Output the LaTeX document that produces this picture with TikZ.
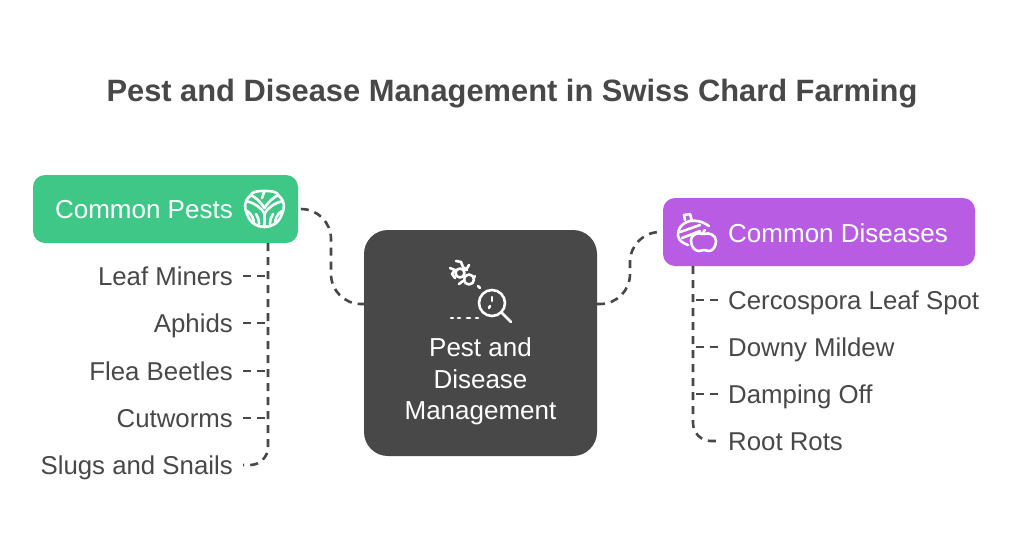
\documentclass[tikz,border=0pt]{standalone}
\usepackage{fontspec}
\setmainfont{Liberation Sans}
\definecolor{ink}{HTML}{484848}
\definecolor{pestgreen}{HTML}{3EC787}
\definecolor{diseasepurple}{HTML}{B75CE3}
\tikzset{
  box/.style={minimum height=68pt,rounded corners=12pt,inner sep=0pt},
  boxtext/.style={text=white,font=\fontsize{26}{30}\selectfont,text height=18.6pt,text depth=0pt,inner xsep=0pt,inner ysep=0pt},
  leaf/.style={text=ink,font=\fontsize{25.8}{30}\selectfont,text height=18.6pt,text depth=0pt,inner xsep=10pt,inner ysep=0pt},
  link/.style={draw=ink,line width=2.6pt,dash pattern=on 8pt off 6pt},
  icon/.style={draw=white,line width=2.6pt,line cap=round,line join=round}
}
\begin{document}
\begin{tikzpicture}[x=1pt,y=-1pt]
\useasboundingbox (0,0) rectangle (1024,544);
\fill[white] (0,0) rectangle (1024,544);
\node[text=ink,font=\bfseries\fontsize{30.85}{36}\selectfont] (title) at (512,93.5) {Pest and Disease Management in Swiss Chard Farming};
\node[box,fill=pestgreen,minimum width=265pt] (pests) at (165.5,209) {};
\node[box,fill=diseasepurple,minimum width=312pt] (diseases) at (819,232) {};
\node[fill=ink,rounded corners=24pt,minimum width=233pt,minimum height=226pt,inner sep=0pt] (main) at (480.5,343) {};
\node[boxtext,anchor=east] (pestslabel) at (233,209) {Common Pests};
\node[boxtext,anchor=west] (diseaseslabel) at (728,233) {Common Diseases};
\node[text=white,font=\fontsize{26}{31.5}\selectfont,align=center] (mainlabel) at (480.5,381.5) {Pest and\\Disease\\Management};
\node[leaf,anchor=east] (miners) at (243,276) {Leaf Miners};
\node[leaf,anchor=east] (aphids) at (243,323) {Aphids};
\node[leaf,anchor=east] (beetles) at (243,371) {Flea Beetles};
\node[leaf,anchor=east] (cutworms) at (243,418) {Cutworms};
\node[leaf,anchor=east] (slugs) at (243,465) {Slugs and Snails};
\node[leaf,anchor=west] (cercospora) at (718,300) {Cercospora Leaf Spot};
\node[leaf,anchor=west] (mildew) at (718,347) {Downy Mildew};
\node[leaf,anchor=west] (damping) at (718,394) {Damping Off};
\node[leaf,anchor=west] (rots) at (718,441) {Root Rots};
\coordinate (pesttrunk) at (268,243);
\coordinate (diseasetrunk) at (693,266);
\coordinate (mainleft) at (364,304);
\coordinate (mainright) at (597,304);
\coordinate (leftbend) at (331,256);
\coordinate (rightbend) at (630,268);
\draw[link,rounded corners=30pt] ([xshift=3pt]pests.east) -- (pests.east -| leftbend) -- (mainleft -| leftbend) -- (mainleft);
\draw[link,rounded corners=30pt] (mainright) -- (mainright -| rightbend) -- (diseases.west -| rightbend) -- (diseases.west);
\draw[link,rounded corners=18pt] (pesttrunk) |- (slugs.east);
\draw[link,rounded corners=18pt] (diseasetrunk) |- (rots.west);
\foreach \n in {miners,aphids,beetles,cutworms}
  \draw[link] (\n.east) -- (\n.east -| pesttrunk);
\foreach \n in {cercospora,mildew,damping}
  \draw[link] (\n.west) -- (\n.west -| diseasetrunk);
% cabbage
\draw[icon] (250,196) .. controls (252,191) and (258,191) .. (264.5,191) .. controls (271,191) and (277,191) .. (279,196) .. controls (285,201) and (285,208) .. (282,214) .. controls (279,223) and (272,227) .. (264.5,227) .. controls (257,227) and (250,223) .. (247,214) .. controls (244,208) and (244,201) .. (250,196) -- cycle;
\draw[icon] (264.5,227) -- (264.5,214) .. controls (261,207) and (254,203) .. (246,201);
\draw[icon] (264.5,214) .. controls (268,207) and (275,203) .. (283,201);
\draw[icon] (251,195) .. controls (256,198) and (260,201) .. (264.5,208) .. controls (269,201) and (273,198) .. (278,195);
\draw[icon] (264.5,191) -- (262,198);
\draw[icon] (247,211) .. controls (252,214) and (254,219) .. (254,224);
\draw[icon] (282,211) .. controls (277,214) and (275,219) .. (275,224);
\draw[icon] (259,224) .. controls (259,220) and (258,217) .. (256,214);
\draw[icon] (270,224) .. controls (270,220) and (271,217) .. (273,214);
% acorn and apple
\draw[icon] (685,220) -- (684,215) -- (690,214) -- (692,221);
\draw[icon] (709,226) .. controls (702,221) and (695,220) .. (690,221) .. controls (682,223) and (677,229) .. (678,236) .. controls (679,241) and (683,243) .. (688,245);
\draw[icon] (680,232) -- (700,225);
\draw[icon] (682,238) -- (700,231);
\draw[icon] (703,234) .. controls (698,232) and (691,234) .. (691,241) .. controls (691,248) and (696,251) .. (699,251) .. controls (701,251) and (702,250) .. (704,250) .. controls (706,250) and (707,251) .. (709,251) .. controls (713,251) and (716,246) .. (716,241) .. controls (716,235) and (709,232) .. (704,234);
\draw[icon] (703,234) .. controls (703,232) and (704,231) .. (705,230);
% bug and magnifier
\draw[icon] (460,273) circle (4.5);
\draw[icon] (469,279.5) circle (5);
\draw[icon] (450,268) -- (455,270) -- (452,274) -- (455,278);
\draw[icon] (456,261) -- (461,262) -- (463,267) -- (467,270);
\draw[icon] (459,284) -- (463,281);
\draw[icon] (469,265) -- (466,270);
\draw[icon] (475,277) -- (475,276);
\draw[icon] (478,286) -- (480,288);
\draw[icon] (492,303) circle (13);
\draw[icon] (501.5,312.5) -- (511,322);
\draw[icon] (492,297) -- (492,301);
\draw[icon] (490,306) -- (489,308);
\draw[icon] (451,318) -- (453,318);
\draw[icon] (458,318) -- (460,318);
\draw[icon] (467,318) -- (470,318);
\draw[icon] (476,318) -- (478,318);
\end{tikzpicture}
\end{document}
